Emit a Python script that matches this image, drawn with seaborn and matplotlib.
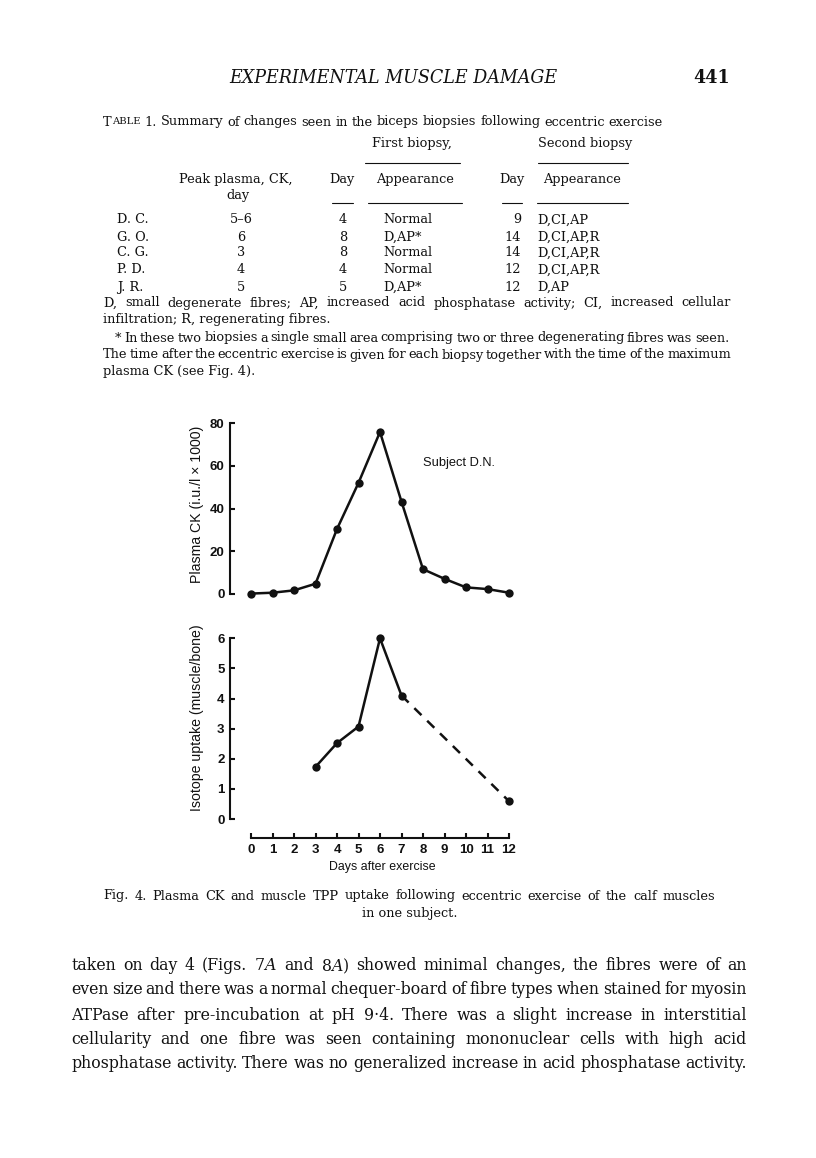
import numpy as np
import pandas as pd
import matplotlib
matplotlib.use('Agg')
import matplotlib.pyplot as plt
from matplotlib.lines import Line2D
import seaborn as sns

# Fig. 4 data
ck_days = [0, 1, 2, 3, 4, 5, 6, 7, 8, 9, 10, 11, 12]
ck_values = [0.2, 0.6, 1.7, 4.8, 30.4, 52.0, 75.8, 43.2, 11.6, 7.1, 3.1, 2.3, 0.6]
iso_days = [3, 4, 5, 6, 7, 12]
iso_values = [1.73, 2.52, 3.07, 6.0, 4.1, 0.59]
day_ticks = list(range(13))
ck_ticks = [0, 20, 40, 60, 80]
iso_ticks = [0, 1, 2, 3, 4, 5, 6]

# Table 1
subjects = ['D. C.', 'G. O.', 'C. G.', 'P. D.', 'J. R.']
peak_day = ['5–6', '6', '3', '4', '5']
first_day = ['4', '8', '8', '4', '5']
first_look = ['Normal', 'D,AP*', 'Normal', 'Normal', 'D,AP*']
second_day = ['9', '14', '14', '12', '12']
second_look = ['D,CI,AP', 'D,CI,AP,R', 'D,CI,AP,R', 'D,CI,AP,R', 'D,AP']

notes = [
    'D, small degenerate fibres; AP, increased acid phosphatase activity; CI, increased cellular',
    'infiltration; R, regenerating fibres.',
    '* In these two biopsies a single small area comprising two or three degenerating fibres was seen.',
    'The time after the eccentric exercise is given for each biopsy together with the time of the maximum',
    'plasma CK (see Fig. 4).',
]
caption = 'Fig. 4.  Plasma CK and muscle TPP uptake following eccentric exercise of the calf muscles'
body = [
    r'taken on day 4 (Figs. 7$\mathit{A}$ and 8$\mathit{A}$) showed minimal changes, the fibres were of an',
    'even size and there was a normal chequer-board of fibre types when stained for myosin',
    'ATPase after pre-incubation at pH 9·4. There was a slight increase in interstitial',
    'cellularity and one fibre was seen containing mononuclear cells with high acid',
    'phosphatase activity. There was no generalized increase in acid phosphatase activity.',
]

sns.set_style('ticks')
plt.rcParams['font.family'] = ['DejaVu Serif']
plt.rcParams['mathtext.fontset'] = 'dejavuserif'
INK = '#111111'
SANS = ['Liberation Sans', 'DejaVu Sans']

W, H = 816, 1158
fig = plt.figure(figsize=(W / 100, H / 100), dpi=100)
R = fig.canvas.get_renderer()


def fx(x):
    return x / W


def fy(y):
    return 1 - y / H


def txt(x, y, s, size, ha='left', **kw):
    kw.setdefault('color', INK)
    return fig.text(fx(x), fy(y), s, fontsize=size, ha=ha, va='center', **kw)


def width(t):
    return t.get_window_extent(R).width


def fit_size(s, target, **kw):
    t = txt(0, 0, s, 10, **kw)
    bb = t.get_window_extent(R)
    t.remove()
    return 10 * target / max(bb.width, bb.height)


def max_size(s, span, min_gap=2.0):
    # largest size at which the words still leave min_gap between them
    ts = [txt(0, 0, w, 10) for w in s.split()]
    tot = sum(width(t) for t in ts)
    for t in ts:
        t.remove()
    return 10 * (span - min_gap * (len(ts) - 1)) / tot


def justify(s, x0, x1, y, size, **kw):
    ts = [txt(0, y, w, size, **kw) for w in s.split()]
    ws = [width(t) for t in ts]
    gap = (x1 - x0 - sum(ws)) / max(len(ts) - 1, 1)
    x = x0
    for t, w in zip(ts, ws):
        t.set_x(fx(x))
        x += w + gap


def rule(x0, x1, y, lw=0.8):
    fig.add_artist(Line2D([fx(x0), fx(x1)], [fy(y), fy(y)], lw=lw, color=INK,
                          transform=fig.transFigure))


# running head
hs = fit_size('EXPERIMENTAL MUSCLE DAMAGE', 329, style='italic')
txt(229, 78, 'EXPERIMENTAL MUSCLE DAMAGE', hs, style='italic')
txt(730, 78, '441', hs, ha='right', weight='bold')

# table
ts_ = min(fit_size(notes[3], 662),
          max_size(notes[0], 628), max_size(notes[2], 614),
          max_size(notes[3], 628), max_size(caption, 612))
t1 = txt(103, 122, 'T', ts_)
x = 103 + width(t1)
t2 = txt(x, 122, 'ABLE', ts_ * 0.78)
x += width(t2) + 4
justify('1.  Summary of changes seen in the biceps biopsies following eccentric exercise',
        x, 663, 122, ts_)

txt(412, 143, 'First biopsy,', ts_, ha='center')
txt(585, 143, 'Second biopsy', ts_, ha='center')
rule(365, 460, 163)
rule(538, 628, 163)

txt(236, 180, 'Peak plasma, CK,', ts_, ha='center')
txt(238, 196, 'day', ts_, ha='center')
for cx, lab, x0, x1 in [(342, 'Day', 332, 353), (415, 'Appearance', 368, 462),
                        (512, 'Day', 502, 522), (582, 'Appearance', 537, 628)]:
    txt(cx, 180, lab, ts_, ha='center')
    rule(x0, x1, 203)

rows_y = [220, 237, 253, 270, 287]
for i, y in enumerate(rows_y):
    txt(117, y, subjects[i], ts_)
    txt(241, y, peak_day[i], ts_, ha='center')
    txt(347, y, first_day[i], ts_, ha='right')
    txt(383, y, first_look[i], ts_)
    txt(521, y, second_day[i], ts_, ha='right')
    txt(537, y, second_look[i], ts_)

note_y = [303, 320, 338, 355, 372]
justify(notes[0], 103, 731, note_y[0], ts_)
txt(103, note_y[1], notes[1], ts_)
justify(notes[2], 115, 729, note_y[2], ts_)
justify(notes[3], 103, 731, note_y[3], ts_)
txt(103, note_y[4], notes[4], ts_)

# ---- Fig. 4 -------------------------------------------------------------
px_day = 21.5
x_day0 = 251.0


def axes_px(left, top, right, bottom):
    return fig.add_axes([fx(left), fy(bottom), (right - left) / W, (bottom - top) / H])


xlo, xhi = -1.0, 12.5
ax_left = x_day0 + xlo * px_day
ax_right = x_day0 + xhi * px_day

# top panel: plasma CK
ck_px = (594 - 423) / 80
ax1 = axes_px(ax_left, 423 - 2 * ck_px, ax_right, 594 + 2 * ck_px)
sns.lineplot(x=ck_days, y=ck_values, ax=ax1, color=INK, lw=1.8, marker='o',
             markersize=6, markeredgewidth=0, clip_on=False)
ax1.set_xlim(xlo, xhi)
ax1.set_ylim(-2, 82)
ax1.set_yticks(ck_ticks)
ax1.spines[['top', 'right', 'bottom']].set_visible(False)
ax1.spines['left'].set_bounds(0, 80)
ax1.set_xticks([])
ax1.text(8.0, 61.5, 'Subject D.N.', fontsize=9.3, family=SANS, color=INK, va='center')

# bottom panel: isotope uptake
iso_px = (819 - 638.3) / 6
ax2 = axes_px(ax_left, 638.3 - 0.2 * iso_px, ax_right, 819 + 0.63 * iso_px)
sns.lineplot(x=iso_days[:5], y=iso_values[:5], ax=ax2, color=INK, lw=1.8, marker='o',
             markersize=6, markeredgewidth=0, clip_on=False)
sns.lineplot(x=iso_days[4:], y=iso_values[4:], ax=ax2, color=INK, lw=1.8,
             dashes=(4.0, 3.2), clip_on=False)
sns.scatterplot(x=iso_days[5:], y=iso_values[5:], ax=ax2, color=INK, s=36,
                linewidth=0, clip_on=False)
ax2.set_xlim(xlo, xhi)
ax2.set_ylim(-0.63, 6.2)
ax2.set_yticks(iso_ticks)
ax2.set_xticks(day_ticks)
ax2.spines[['top', 'right']].set_visible(False)
ax2.spines['left'].set_bounds(0, 6)
ax2.spines['bottom'].set_bounds(0, 12)

for ax in (ax1, ax2):
    ax.set_xlabel('')
    ax.set_ylabel('')
    ax.set_facecolor('none')
    for sp in ax.spines.values():
        sp.set_linewidth(1.5)
        sp.set_color(INK)
    ax.tick_params(axis='both', direction='in', length=3.5, width=1.5, color=INK,
                   labelsize=9.5, labelcolor=INK)
    ax.tick_params(axis='y', pad=3.5)
    ax.tick_params(axis='x', pad=4.5)
    for lab in ax.get_yticklabels() + ax.get_xticklabels():
        lab.set_family(SANS)
        lab.set_weight('bold')

ls = fit_size('Plasma CK (i.u./l × 1000)', 158, family=SANS)
txt(197, 504, 'Plasma CK (i.u./l × 1000)', ls, ha='center', rotation=90, family=SANS)
txt(197, 718, 'Isotope uptake (muscle/bone)', ls, ha='center', rotation=90, family=SANS)
txt(382, 867, 'Days after exercise', 8.9, ha='center', family=SANS)

# caption
justify(caption, 103, 715, 896, ts_)
txt(410, 913, 'in one subject.', ts_, ha='center')

# running text
bs = min([fit_size(body[1], 705)] + [max_size(s, 676, 2.5) for s in body])
for s, y in zip(body, [966, 990, 1015, 1039, 1063]):
    justify(s, 71, 747, y, bs)

fig.savefig('out.png', dpi=100, facecolor='white')
